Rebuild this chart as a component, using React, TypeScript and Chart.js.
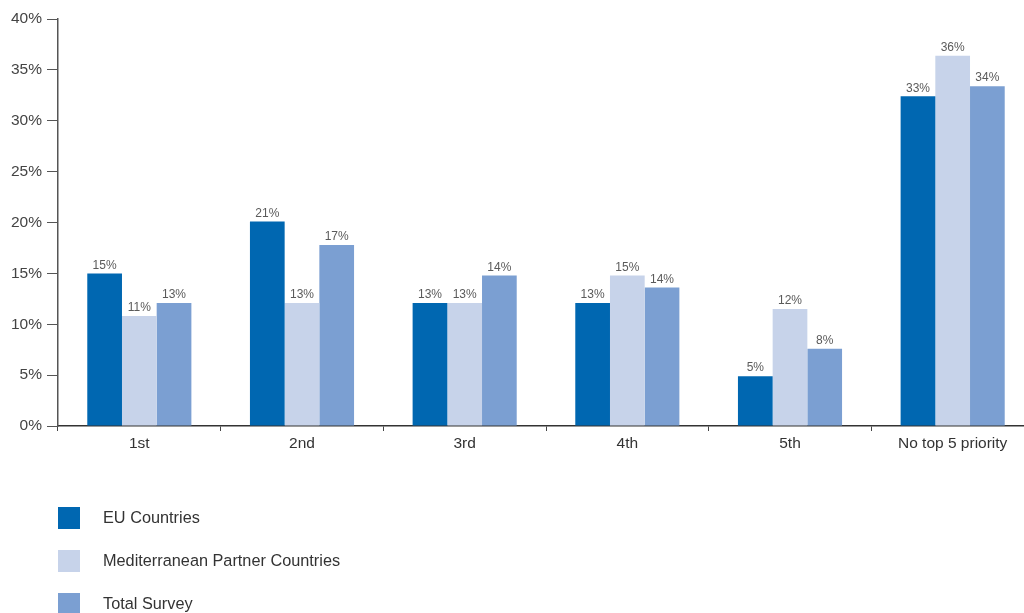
import React, { useEffect, useRef } from "react";
import { Chart, registerables } from "chart.js";

Chart.register(...registerables);

const categories = ["1st", "2nd", "3rd", "4th", "5th", "No top 5 priority"];
const seriesNames = ["EU Countries", "Mediterranean Partner Countries", "Total Survey"];
const euValues = [15.0, 20.1, 12.1, 12.1, 4.9, 32.4];
const medValues = [10.8, 12.1, 12.1, 14.8, 11.5, 36.4];
const totalValues = [12.1, 17.8, 14.8, 13.6, 7.6, 33.4];
const euLabels = ["15%", "21%", "13%", "13%", "5%", "33%"];
const medLabels = ["11%", "13%", "13%", "15%", "12%", "36%"];
const totalLabels = ["13%", "17%", "14%", "14%", "8%", "34%"];
const yTicks = [0, 5, 10, 15, 20, 25, 30, 35, 40];

const colors = ["#0067b1", "#c7d3ea", "#7b9fd2"];
const FONT = "'Liberation Sans', Arial, sans-serif";

const valueLabelPlugin = {
  id: "valueLabels",
  afterDatasetsDraw(chart: any) {
    const ctx = chart.ctx;
    ctx.save();
    ctx.font = `12px ${FONT}`;
    ctx.fillStyle = "#5a5a5a";
    ctx.textAlign = "center";
    ctx.textBaseline = "bottom";
    chart.data.datasets.forEach((ds: any, i: number) => {
      const meta = chart.getDatasetMeta(i);
      meta.data.forEach((el: any, j: number) => {
        ctx.fillText(ds.valueLabels[j], el.x, el.y - 2);
      });
    });
    ctx.restore();
  },
};

const legendPlugin = {
  id: "customLegend",
  afterDraw(chart: any) {
    const ctx = chart.ctx;
    ctx.save();
    ctx.font = `16.3px ${FONT}`;
    ctx.textAlign = "left";
    ctx.textBaseline = "middle";
    chart.data.datasets.forEach((ds: any, i: number) => {
      const top = 507 + i * 43;
      ctx.fillStyle = ds.backgroundColor;
      ctx.fillRect(58, top, 22, 22);
      ctx.fillStyle = "#333333";
      ctx.fillText(ds.label, 103, top + 12);
    });
    ctx.restore();
  },
};

export default function App() {
  const ref = useRef<HTMLCanvasElement>(null);
  useEffect(() => {
    if (!ref.current) return;
    const chart = new Chart(ref.current, {
      type: "bar",
      data: {
        labels: categories,
        datasets: [
          { label: seriesNames[0], data: euValues, backgroundColor: colors[0], valueLabels: euLabels } as any,
          { label: seriesNames[1], data: medValues, backgroundColor: colors[1], valueLabels: medLabels } as any,
          { label: seriesNames[2], data: totalValues, backgroundColor: colors[2], valueLabels: totalLabels } as any,
        ],
      },
      options: {
        responsive: false,
        animation: false,
        devicePixelRatio: 1,
        layout: { padding: { top: 19, right: 6, left: 0, bottom: 0 } },
        datasets: { bar: { categoryPercentage: 0.64, barPercentage: 1.0, borderWidth: 0 } },
        plugins: { legend: { display: false }, tooltip: { enabled: false } },
        scales: {
          x: {
            grid: { drawOnChartArea: false, offset: true, tickLength: 5, color: "#444444" },
            border: { display: true, color: "#333333", width: 1.5 },
            ticks: { font: { family: FONT, size: 15.5 }, color: "#333333", padding: 3, maxRotation: 0 },
            afterFit: (s: any) => { s.height = 187; },
          },
          y: {
            min: 0,
            max: 40,
            afterBuildTicks: (s: any) => { s.ticks = yTicks.map((v) => ({ value: v })); },
            grid: { drawOnChartArea: false, tickLength: 11, color: "#555555" },
            border: { display: true, color: "#555555", width: 1.5 },
            ticks: {
              font: { family: FONT, size: 15.5 },
              color: "#444444",
              padding: 5,
              callback: (v: any) => `${v}%`,
            },
            afterFit: (s: any) => { s.width = 58; },
          },
        },
      },
      plugins: [valueLabelPlugin, legendPlugin],
    });
    return () => chart.destroy();
  }, []);
  return (
    <div style={{ position: "fixed", left: 0, top: 0, width: 1024, height: 613, overflow: "hidden", background: "#ffffff" }}>
      <canvas ref={ref} width={1040} height={613} style={{ display: "block", width: 1040, height: 613 }} />
    </div>
  );
}
